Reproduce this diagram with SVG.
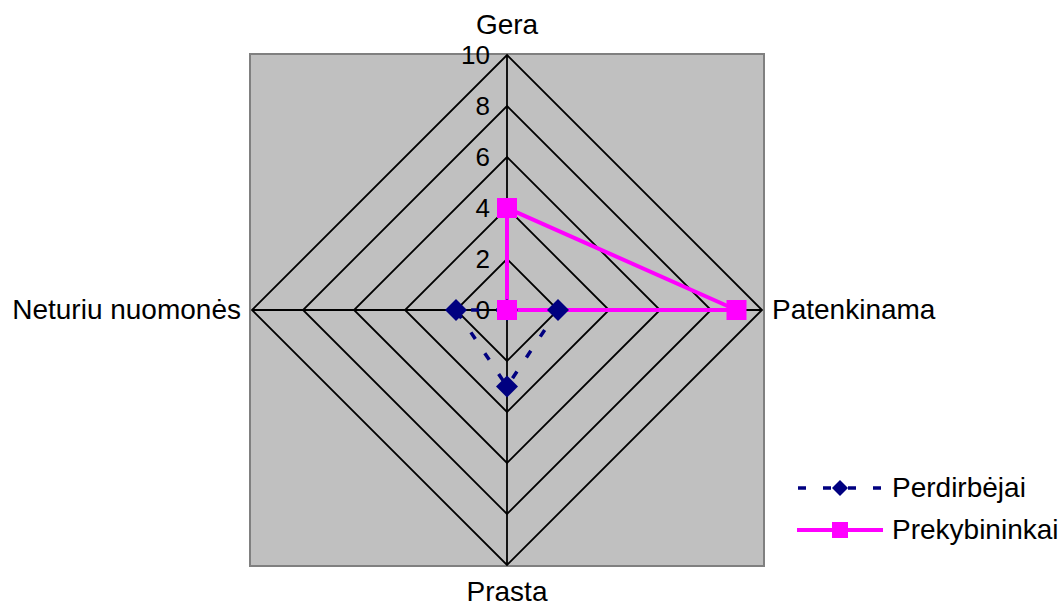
<svg xmlns="http://www.w3.org/2000/svg" width="1062" height="607" viewBox="0 0 1062 607">
<style>
text{font-family:"Liberation Sans",Arial,sans-serif;fill:#000}
.cat{font-size:28px}
.tick{font-size:26px;text-anchor:end}
.grid{fill:none;stroke:#000;stroke-width:1.8}
.s1{fill:none;stroke:#000080;stroke-width:3.5;stroke-dasharray:8 17}
.s2{fill:none;stroke:#FF00FF;stroke-width:4}
.dia{fill:#000080}
.sq{fill:#FF00FF}
</style>
<rect width="1062" height="607" fill="#fff"/>
<g id="plot-area">
<rect x="250" y="54" width="514" height="512" fill="#C0C0C0" stroke="#808080" stroke-width="2"/>
</g>
<g id="grid">
<polygon class="grid" points="507,259 558,310 507,361 456,310"/>
<polygon class="grid" points="507,208 609,310 507,412 405,310"/>
<polygon class="grid" points="507,157 660,310 507,463 354,310"/>
<polygon class="grid" points="507,106 711,310 507,514 303,310"/>
<polygon class="grid" points="507,55 762,310 507,565 252,310"/>
<line class="grid" x1="507" y1="55" x2="507" y2="565"/>
<line class="grid" x1="252" y1="310" x2="762" y2="310"/>
</g>
<g id="ticks">
<text class="tick" x="490" y="64">10</text>
<text class="tick" x="490" y="115">8</text>
<text class="tick" x="490" y="166">6</text>
<text class="tick" x="490" y="217">4</text>
<text class="tick" x="490" y="268">2</text>
<text class="tick" x="490" y="319">0</text>
</g>
<g id="categories">
<text class="cat" x="507" y="34" text-anchor="middle">Gera</text>
<text class="cat" x="772" y="319">Patenkinama</text>
<text class="cat" x="507" y="601" text-anchor="middle">Prasta</text>
<text class="cat" x="241" y="319" text-anchor="end">Neturiu nuomonės</text>
</g>
<g id="connectors">
<polygon id="series-perdirbejai" class="s1" points="507,310 558,310 507,386.5 456,310"/>
<polygon id="series-prekybininkai" class="s2" points="507,208 736.5,310 507,310 507,310"/>
</g>
<g id="markers-perdirbejai">
<polygon class="dia" points="507,299 518,310 507,321 496,310"/>
<polygon class="dia" points="558,299 569,310 558,321 547,310"/>
<polygon class="dia" points="507,375.5 518,386.5 507,397.5 496,386.5"/>
<polygon class="dia" points="456,299 467,310 456,321 445,310"/>
</g>
<g id="markers-prekybininkai">
<rect class="sq" x="497" y="198" width="20" height="20"/>
<rect class="sq" x="726.5" y="300" width="20" height="20"/>
<rect class="sq" x="497" y="300" width="20" height="20"/>
</g>
<g id="legend">
<line class="s1" x1="798" y1="488" x2="882" y2="488"/>
<polygon class="dia" points="840,480 848,488 840,496 832,488"/>
<text class="cat" x="892" y="497">Perdirbėjai</text>
<line class="s2" x1="797" y1="530" x2="883" y2="530"/>
<rect class="sq" x="832" y="522" width="16" height="16"/>
<text class="cat" x="892" y="539">Prekybininkai</text>
</g>
</svg>
